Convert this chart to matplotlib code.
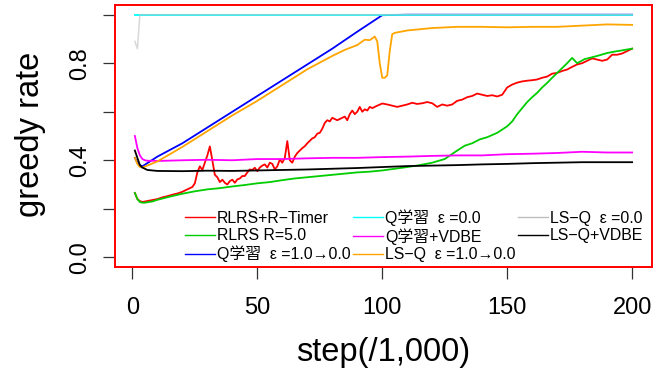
import matplotlib
matplotlib.use("Agg")
import matplotlib.pyplot as plt

plt.rcParams["font.family"] = ["Liberation Sans", "Noto Sans CJK JP", "DejaVu Sans"]

# ---- data (step in thousands, greedy rate) ----
red_x = [1, 2, 3, 4, 6, 8, 10, 12, 14, 16, 18, 20, 22, 24, 25, 26, 27, 28, 29, 30,
         31, 32, 33, 34, 35, 36, 37, 38, 39, 40, 41, 42, 43, 44, 45, 46, 47, 48, 49, 50,
         51, 52, 53, 54, 55, 56, 57, 58, 59, 60, 61, 62, 63, 64, 65, 66, 67, 68, 69, 70,
         71, 72, 73, 74, 75, 76, 77, 78, 79, 80, 81, 82, 83, 84, 85, 86, 87, 88, 89, 90,
         91, 92, 93, 94, 95, 96, 97, 98, 100, 102, 104, 106, 108, 110, 112, 114, 116, 118, 120,
         122, 124, 126, 128, 130, 132, 134, 136, 138, 140, 142, 144, 146, 148, 150, 152, 154,
         156, 158, 160, 162, 164, 166, 168, 170, 172, 174, 176, 178, 180, 182, 184, 186, 188,
         190, 192, 194, 196, 198, 200]
red_y = [0.265, 0.24, 0.232, 0.228, 0.232, 0.236, 0.24, 0.247, 0.252, 0.258, 0.263, 0.27,
         0.28, 0.29, 0.305, 0.35, 0.375, 0.36, 0.39, 0.42,
         0.457, 0.40, 0.34, 0.33, 0.31, 0.32, 0.307, 0.30, 0.314, 0.32, 0.307, 0.321, 0.325,
         0.335, 0.335, 0.35, 0.362, 0.36, 0.369, 0.355,
         0.37, 0.378, 0.383, 0.37, 0.39, 0.385, 0.362, 0.375, 0.403, 0.39, 0.41, 0.479, 0.40,
         0.39, 0.415, 0.43, 0.44, 0.45, 0.458, 0.47,
         0.48, 0.49, 0.495, 0.51, 0.513, 0.53, 0.554, 0.565, 0.56, 0.575, 0.57, 0.565, 0.57,
         0.575, 0.58, 0.565, 0.59, 0.605, 0.59, 0.60,
         0.62, 0.60, 0.61, 0.605, 0.62, 0.615, 0.62, 0.625, 0.634, 0.63, 0.625, 0.62, 0.625,
         0.63, 0.637, 0.632, 0.635, 0.64, 0.635,
         0.62, 0.63, 0.625, 0.63, 0.645, 0.65, 0.66, 0.665, 0.675, 0.67, 0.665, 0.668, 0.663,
         0.67, 0.70, 0.712, 0.72,
         0.725, 0.728, 0.73, 0.733, 0.74, 0.745, 0.757, 0.76, 0.768, 0.774, 0.785, 0.795,
         0.80, 0.81, 0.82, 0.815, 0.81,
         0.815, 0.835, 0.835, 0.84, 0.85, 0.86]

green_x = [1, 2, 3, 4, 5, 6, 8, 10, 15, 20, 25, 30, 35, 40, 45, 50, 55, 60, 65, 70, 75, 80,
           85, 90, 95, 100, 105, 110, 115, 120, 125, 130, 133, 136, 139, 142, 146, 150, 152,
           154, 156, 158, 160, 162, 164, 166, 168, 170, 172, 174, 176, 178, 181, 183, 186,
           190, 193, 196, 200]
green_y = [0.265, 0.24, 0.228, 0.225, 0.225, 0.227, 0.23, 0.237, 0.25, 0.262, 0.272, 0.28,
           0.285, 0.292, 0.298, 0.305, 0.31, 0.318, 0.325, 0.33, 0.335, 0.34, 0.345, 0.35,
           0.353, 0.358, 0.365, 0.372, 0.38, 0.39, 0.405, 0.44, 0.46, 0.47, 0.486, 0.495,
           0.513, 0.54, 0.56, 0.59, 0.615, 0.64, 0.66, 0.678, 0.70, 0.719, 0.74, 0.76, 0.78,
           0.80, 0.822, 0.80, 0.817, 0.822, 0.83, 0.842, 0.848, 0.853, 0.86]

blue_x = [1, 2, 3, 4, 10, 20, 30, 40, 50, 60, 70, 80, 90, 100, 110, 120, 130, 140, 150,
          160, 170, 180, 190, 200]
blue_y = [0.41, 0.39, 0.38, 0.375, 0.415, 0.47, 0.535, 0.60, 0.665, 0.73, 0.795, 0.86,
          0.93, 0.998, 1.0, 1.0, 1.0, 1.0, 1.0, 1.0, 1.0, 1.0, 1.0, 1.0]

cyan_x = [1, 50, 100, 150, 200]
cyan_y = [1.0, 1.0, 1.0, 1.0, 1.0]

magenta_x = [1, 2, 3, 4, 5, 6, 8, 10, 20, 30, 40, 50, 60, 70, 80, 90, 100, 110, 120, 130,
             140, 150, 160, 170, 180, 190, 200]
magenta_y = [0.50, 0.45, 0.42, 0.405, 0.40, 0.398, 0.398, 0.397, 0.40, 0.402, 0.40, 0.405,
             0.405, 0.408, 0.41, 0.41, 0.413, 0.415, 0.418, 0.42, 0.42, 0.425, 0.427, 0.43,
             0.435, 0.432, 0.432]

orange_x = [1, 2, 3, 4, 10, 20, 30, 40, 50, 60, 70, 80, 85, 90, 93, 95, 97, 98, 99, 100,
            101, 102, 103, 104, 105, 110, 120, 130, 140, 150, 160, 170, 180, 190, 200]
orange_y = [0.41, 0.385, 0.372, 0.37, 0.395, 0.455, 0.52, 0.585, 0.645, 0.71, 0.775, 0.83,
            0.855, 0.875, 0.897, 0.895, 0.91, 0.89, 0.80, 0.74, 0.74, 0.75, 0.85, 0.92,
            0.925, 0.935, 0.945, 0.95, 0.95, 0.948, 0.95, 0.95, 0.955, 0.96, 0.958]

gray_x = [1, 2, 3, 50, 100, 150, 200]
gray_y = [0.89, 0.86, 1.0, 1.0, 1.0, 1.0, 1.0]

black_x = [1, 2, 3, 4, 5, 6, 8, 10, 20, 30, 40, 50, 60, 70, 80, 90, 100, 110, 120, 130,
           140, 150, 160, 170, 180, 190, 200]
black_y = [0.44, 0.41, 0.38, 0.37, 0.365, 0.36, 0.358, 0.356, 0.355, 0.357, 0.356, 0.358,
           0.36, 0.362, 0.365, 0.368, 0.372, 0.376, 0.378, 0.38, 0.383, 0.385, 0.388, 0.39,
           0.392, 0.392, 0.392]

series = [
    (red_x, red_y, "#FF0000", "RLRS+R\u2212Timer"),
    (green_x, green_y, "#00CD00", "RLRS R=5.0"),
    (blue_x, blue_y, "#0000FF", "Q学習  \u03b5 =1.0\u21920.0"),
    (cyan_x, cyan_y, "#00FFFF", "Q学習  \u03b5 =0.0"),
    (magenta_x, magenta_y, "#FF00FF", "Q学習+VDBE"),
    (orange_x, orange_y, "#FFA500", "LS\u2212Q  \u03b5 =1.0\u21920.0"),
    (gray_x, gray_y, "#BEBEBE", "LS\u2212Q  \u03b5 =0.0"),
    (black_x, black_y, "#000000", "LS\u2212Q+VDBE"),
]

fig = plt.figure(figsize=(6.67, 3.71), dpi=100)
ax = fig.add_axes([115 / 667, 1 - 267 / 371, 537 / 667, 262 / 371])

for xs, ys, col, lab in series:
    if col == "#BEBEBE":
        ax.plot(xs, ys, color=col, lw=1.1, alpha=0.6, label=lab)
    else:
        ax.plot(xs, ys, color=col, lw=1.3, label=lab)

ax.set_xlim(-6.96, 207.96)
ax.set_ylim(-0.04, 1.04)
ax.set_xticks([0, 50, 100, 150, 200])
ax.set_yticks([0.0, 0.2, 0.4, 0.6, 0.8, 1.0])
ax.set_yticklabels(["0.0", "", "0.4", "", "0.8", ""], rotation=90, va="center")
ax.tick_params(direction="out", length=8.5, width=0.9, labelsize=17, color="#333333")
ax.tick_params(axis="x", pad=13)
ax.tick_params(axis="y", pad=9)

# R-style box round the plot (red here only to see whether it is drawn)
for sp in ax.spines.values():
    sp.set_color("red")
    sp.set_linewidth(1.4)

fig.text(383 / 667, 1 - 352 / 371, "step(/1,000)", ha="center", va="center", fontsize=23.5)
fig.text(30 / 667, 1 - 134 / 371, "greedy rate", ha="center", va="center",
         rotation=90, fontsize=23.5)

leg = ax.legend(loc="upper left", bbox_to_anchor=(0.13, 0.222), ncol=3, frameon=False,
                fontsize=11.4, handlelength=1.9, handletextpad=0.12, columnspacing=0.15,
                labelspacing=0.16, borderpad=0, borderaxespad=0)
for h in leg.legend_handles:
    h.set_alpha(1.0)
    h.set_linewidth(1.0)

fig.savefig("out.png", dpi=100)
